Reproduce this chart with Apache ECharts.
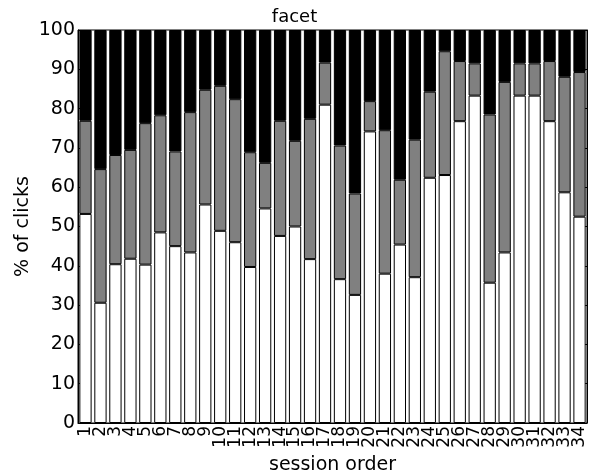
<!DOCTYPE html>
<html>
<head>
<meta charset="utf-8">
<script src="https://cdn.jsdelivr.net/npm/echarts@6/dist/echarts.min.js"></script>
<style>html,body{margin:0;padding:0;background:#fff}#c{width:589px;height:474px}</style>
</head>
<body>
<div id="c"></div>
<script>
var categories = ['1','2','3','4','5','6','7','8','9','10','11','12','13','14','15','16','17','18','19','20','21','22','23','24','25','26','27','28','29','30','31','32','33','34'];
var whitePart = [53.2,30.6,40.4,41.8,40.3,48.5,45.0,43.4,55.6,48.9,46.0,39.7,54.6,47.6,50.0,41.7,81.0,36.6,32.6,74.2,38.0,45.4,37.1,62.4,63.1,76.8,83.3,35.7,43.4,83.3,83.3,76.8,58.7,52.5];
var grayPart = [23.7,34.0,27.8,27.7,36.0,29.8,24.1,35.7,29.2,36.9,36.4,29.2,11.6,29.3,21.8,35.7,10.7,34.0,25.8,7.7,36.5,16.5,35.0,21.9,31.5,15.3,8.2,42.8,43.4,8.2,8.2,15.3,29.4,36.8];
var blackPart = [23.1,35.4,31.8,30.5,23.7,21.7,30.9,20.9,15.2,14.2,17.6,31.1,33.8,23.1,28.2,22.6,8.3,29.4,41.6,18.1,25.5,38.1,27.9,15.7,5.4,7.9,8.5,21.5,13.2,8.5,8.5,7.9,11.9,10.7];
var yTicks = [0,10,20,30,40,50,60,70,80,90,100];

var font = 'DejaVu Sans';
var chart = echarts.init(document.getElementById('c'), null, {renderer: 'canvas'});
function part(name, data, color) {
  return {
    name: name, type: 'bar', stack: 'all', data: data,
    barCategoryGap: '18%',
    itemStyle: {color: color, borderColor: '#000', borderWidth: 1},
    animation: false
  };
}
chart.setOption({
  animation: false,
  title: {
    text: 'facet', left: 'center', top: 3,
    textStyle: {fontFamily: font, fontSize: 18, fontWeight: 'normal', color: '#000'}
  },
  grid: {left: 78, right: 2, top: 30, bottom: 51, containLabel: false, outerBoundsMode: 'none', show: true, borderColor: '#000', borderWidth: 1, backgroundColor: 'transparent'},
  xAxis: {
    type: 'category', data: categories,
    name: 'session order', nameLocation: 'middle', nameGap: 32,
    nameTextStyle: {fontFamily: font, fontSize: 19, color: '#000'},
    axisLine: {lineStyle: {color: '#000', width: 1}},
    axisTick: {alignWithLabel: true, inside: true, length: 5, lineStyle: {color: '#000'}},
    axisLabel: {rotate: 90, fontFamily: font, fontSize: 17, color: '#000', margin: 3, interval: 0}
  },
  yAxis: [{
    type: 'value', min: 0, max: 100, interval: 10,
    name: '% of clicks', nameLocation: 'middle', nameGap: 45, nameMoveOverlap: false,
    nameTextStyle: {fontFamily: font, fontSize: 19, color: '#000'},
    axisLine: {show: true, lineStyle: {color: '#000'}},
    axisTick: {show: true, inside: true, length: 5, lineStyle: {color: '#000'}},
    axisLabel: {fontFamily: font, fontSize: 19, color: '#000', margin: 3, formatter: function(v){ return yTicks.indexOf(v) >= 0 ? String(v) : ''; }},
    splitLine: {show: false}
  }, {
    type: 'value', min: 0, max: 100, interval: 10, position: 'right',
    axisLine: {show: true, lineStyle: {color: '#000'}},
    axisTick: {show: true, inside: true, length: 5, lineStyle: {color: '#000'}},
    axisLabel: {show: false}, splitLine: {show: false}
  }],
  series: [
    part('white', whitePart, '#ffffff'),
    part('gray', grayPart, '#808080'),
    part('black', blackPart, '#000000')
  ]
});
</script>
</body>
</html>
